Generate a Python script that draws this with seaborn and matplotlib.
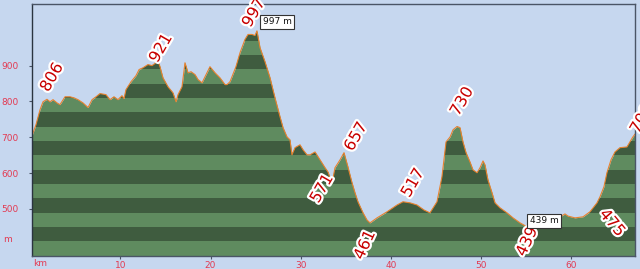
import numpy as np
import pandas as pd
import matplotlib
matplotlib.use("Agg")
import matplotlib.pyplot as plt
import matplotlib.patheffects as pe
import seaborn as sns

# ---- data (km, elevation m) ----
km = [0.21, 0.65, 1.10, 1.43, 1.87, 2.21, 2.54, 2.98, 3.31, 3.87, 4.42, 4.87, 5.31, 5.86,
      6.42, 6.87, 7.31, 7.75, 8.41, 8.86, 9.30, 9.74, 10.19, 10.41, 10.63, 11.19, 11.74,
      12.08, 12.52, 13.07, 13.51, 13.85, 14.07, 14.40, 14.73, 15.29, 15.84, 16.18, 16.40,
      16.84, 17.17, 17.51, 17.84, 18.28, 18.62, 19.06, 19.39, 19.94, 20.50, 21.05, 21.61,
      21.83, 22.16, 22.82, 23.27, 23.82, 24.16, 24.60, 24.93, 25.15, 25.49, 26.04, 26.60,
      27.15, 27.71, 28.04, 28.48, 28.81, 29.03, 29.37, 29.92, 30.26, 30.70, 31.03, 31.59,
      32.14, 32.70, 33.03, 33.47, 33.80, 34.36, 34.80, 35.24, 35.69, 36.02, 36.35, 36.91,
      37.35, 37.68, 38.46, 39.57, 40.68, 41.34, 42.12, 42.89, 43.67, 44.33, 45.11, 45.66,
      46.11, 46.56, 46.89, 47.33, 47.66, 47.99, 48.33, 48.77, 49.10, 49.55, 49.88, 50.21,
      50.43, 50.76, 51.21, 51.54, 52.10, 52.87, 53.54, 54.32, 55.09, 55.43, 55.98, 56.53,
      57.09, 57.64, 58.19, 58.75, 59.30, 59.63, 60.41, 61.30, 62.07, 62.85, 63.18, 63.62,
      63.95, 64.40, 64.84, 65.40, 66.17, 66.50, 66.80, 67.06]
elev = [704, 735, 777, 799, 806, 799, 805, 796, 791, 813, 813, 810, 805, 796,
        783, 805, 813, 822, 819, 805, 813, 805, 816, 808, 833, 855, 872,
        889, 894, 903, 900, 906, 921, 897, 866, 841, 824, 799, 819,
        841, 908, 880, 883, 875, 861, 852, 869, 897, 880, 866, 847,
        847, 855, 897, 936, 973, 987, 987, 984, 997, 950, 911, 866,
        810, 757, 727, 701, 693, 651, 671, 679, 665, 651, 651, 659,
        637, 615, 603, 571, 615, 637, 657, 617, 573, 545, 520, 489,
        469, 461, 475, 492, 511, 520, 517, 511, 497, 489, 520, 590,
        687, 701, 721, 730, 727, 687, 657, 631, 609, 601, 615, 634,
        623, 581, 545, 517, 503, 489, 475, 461, 450, 439, 444, 452,
        461, 469, 475, 478, 486, 480, 475, 478, 492, 517, 534, 562,
        601, 637, 659, 671, 673, 687, 700, 709]

# peak / valley labels
label_km = [1.87, 14.07, 25.15, 33.47, 34.80, 37.68, 42.12, 47.33, 55.43, 60.41, 67.06]
label_val = [806, 921, 997, 571, 657, 461, 517, 730, 439, 475, 709]
label_rot = [60, 60, 60, 60, 60, 65, 60, 60, 65, -50, 60]
label_dx = [5, 4, -3, -10, 12, -5, 3, 5, -3, 37, 7]      # pixels
label_dy = [22, 10, 18, -5, 16, -22, 20, 25, -11, -5, 15]  # pixels (up)

# boxed labels (max / min)
box_km = [25.15, 55.43]
box_val = [997, 439]
box_dx = [20, 14]
box_dy = [9, 10]

yticks = [500, 600, 700, 800, 900]
xticks = [10, 20, 30, 40, 50, 60]

# ---- style ----
bg = "#c6d7ef"
light = "#5f8b5f"
dark = "#3f5c3f"
line_c = "#e8822e"
tick_c = "#e33a52"
lab_c = "#c80000"
spine_c = "#4a5566"

sns.set_style("white")
plt.rcParams["font.family"] = ["DejaVu Sans"]

fig = plt.figure(figsize=(6.4, 2.69), dpi=100, facecolor=bg)
ax = fig.add_axes([32 / 640, 13.5 / 269, 603 / 640, 251.5 / 269])
ax.set_facecolor(bg)

ymin, ymax = 370, 1072
ax.set_xlim(km[0], km[-1])
ax.set_ylim(ymin, ymax)

df = pd.DataFrame({"km": km, "elev": elev})

# profile fill (light) with dark stripes clipped to it
poly = ax.fill_between(df["km"], df["elev"], ymin, color=light, lw=0, zorder=1)
clip_path = poly.get_paths()[0]
band = 40
for i, lo in enumerate(np.arange(ymin, ymax, band)):
    if i % 2 == 1:
        r = ax.axhspan(lo, lo + band, color=dark, lw=0, zorder=2)
        r.set_clip_path(clip_path, ax.transData)

sns.lineplot(data=df, x="km", y="elev", color=line_c, lw=0.8, ax=ax, zorder=3)
ax.set_xlabel("")
ax.set_ylabel("")

ax.set_xticks(xticks)
ax.set_xticklabels([str(t) for t in xticks])
ax.set_yticks(yticks)
ax.set_yticklabels([str(t) for t in yticks])
ax.tick_params(axis="x", colors=spine_c, labelcolor=tick_c, labelsize=6.5,
               length=2.5, width=0.8, pad=1.5, direction="out", bottom=True)
ax.tick_params(axis="y", colors=spine_c, labelcolor=tick_c, labelsize=6.5,
               length=2, width=0.8, pad=7.5, direction="out", left=True)
for s in ax.spines.values():
    s.set_color(spine_c)
    s.set_linewidth(1.0)
    s.set_zorder(5)
ax.spines["left"].set_color("#2a3440")

fig.text(3 / 640, 1 - 240 / 269, "m", color=tick_c, fontsize=6.5, ha="left", va="center")
fig.text(33 / 640, 1 - 263 / 269, "km", color=tick_c, fontsize=6.5, ha="left", va="center")

stroke = [pe.withStroke(linewidth=3.2, foreground="white")]
for x, v, r, dx, dy in zip(label_km, label_val, label_rot, label_dx, label_dy):
    ax.annotate(str(v), xy=(x, v), xytext=(dx, dy), textcoords="offset pixels",
                ha="center", va="center", rotation=r, rotation_mode="anchor",
                color=lab_c, fontsize=11.5, path_effects=stroke,
                annotation_clip=False, zorder=6)

for x, v, dx, dy in zip(box_km, box_val, box_dx, box_dy):
    ax.annotate(f"{v} m", xy=(x, v), xytext=(dx, dy), textcoords="offset pixels",
                ha="center", va="center", fontsize=6.5, color="#111111",
                bbox=dict(boxstyle="square,pad=0.25", fc="white", ec="#333333", lw=0.8),
                annotation_clip=False, zorder=7)

fig.savefig("out.png", dpi=100, facecolor=bg)
